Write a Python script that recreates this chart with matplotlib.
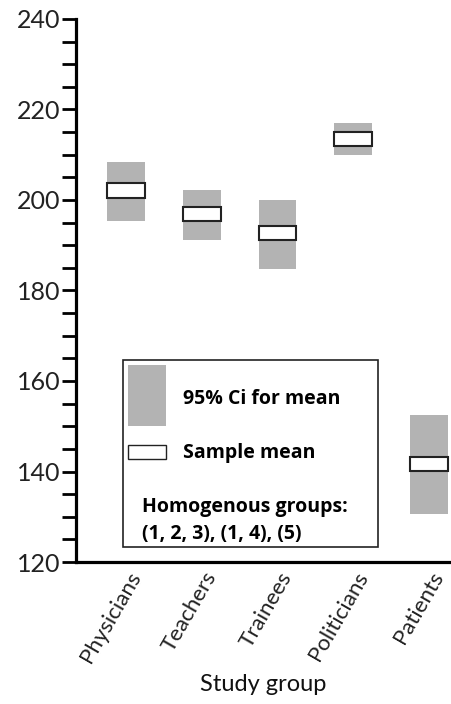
import matplotlib
matplotlib.use("Agg")
import matplotlib.pyplot as plt
import matplotlib.transforms as mtransforms
from matplotlib.patches import Rectangle

groups = ["Physicians", "Teachers", "Trainees", "Politicians", "Patients"]
means = [202.1, 196.9, 192.6, 213.4, 141.7]
ci_low = [195.4, 191.2, 184.8, 210.0, 130.7]
ci_high = [208.4, 202.2, 200.0, 217.0, 152.5]

gray = "#b3b3b3"
box_w = 0.5
mean_h = 3.1

plt.rcParams['font.family'] = ['Lato', 'DejaVu Sans']

fig = plt.figure(figsize=(4.51, 7.04), dpi=100)
ax = fig.add_axes([76/451, 1 - 562/704, 375/451, 543/704])

for i, g in enumerate(groups):
    ax.add_patch(Rectangle((i - box_w/2, ci_low[i]), box_w, ci_high[i] - ci_low[i],
                           facecolor=gray, edgecolor='none', zorder=2))
    ax.add_patch(Rectangle((i - box_w/2, means[i] - mean_h/2), box_w, mean_h,
                           facecolor='white', edgecolor='#222222', lw=1.5, zorder=3))

ax.set_xlim(-0.66, 4.29)
ax.set_ylim(120, 240)
ax.set_yticks(range(120, 241, 5))
ax.set_yticklabels([str(v) if v % 20 == 0 else "" for v in range(120, 241, 5)])
ax.tick_params(axis='y', length=10, width=2, labelsize=18, pad=1, colors='black')
ax.tick_params(axis='y', labelcolor='#222222')

ax.set_xticks(range(len(groups)))
ax.set_xticklabels(groups, rotation=60, ha='right', va='center', rotation_mode='anchor', fontsize=16,
                   color='#222222')
ax.tick_params(axis='x', length=0, pad=8)
offset = mtransforms.ScaledTranslation(10/100, 0, fig.dpi_scale_trans)
for lab in ax.get_xticklabels():
    lab.set_transform(lab.get_transform() + offset)

ax.set_xlabel("Study group", fontsize=17, labelpad=6, color='#111111')

for s in ['top', 'right']:
    ax.spines[s].set_visible(False)
for s in ['left', 'bottom']:
    ax.spines[s].set_linewidth(2.3)

# legend box
ax.add_patch(Rectangle((0.125, 0.0276), 0.68, 0.3444, transform=ax.transAxes,
                       facecolor='white', edgecolor='#222222', lw=1.2, zorder=4))
ax.add_patch(Rectangle((0.139, 0.2505), 0.101, 0.1123, transform=ax.transAxes,
                       facecolor=gray, edgecolor='none', zorder=5))
ax.add_patch(Rectangle((0.139, 0.1897), 0.101, 0.0258, transform=ax.transAxes,
                       facecolor='white', edgecolor='#222222', lw=1.0, zorder=5))
kw = dict(transform=ax.transAxes, fontsize=14, fontweight='bold', va='center', ha='left', zorder=6,
          family=['Open Sans', 'DejaVu Sans'])
ax.text(0.285, 0.300, "95% Ci for mean", **kw)
ax.text(0.285, 0.2007, "Sample mean", **kw)
ax.text(0.176, 0.101, "Homogenous groups:", **kw)
ax.text(0.176, 0.0516, "(1, 2, 3), (1, 4), (5)", **kw)

fig.savefig("out.png", dpi=100)
